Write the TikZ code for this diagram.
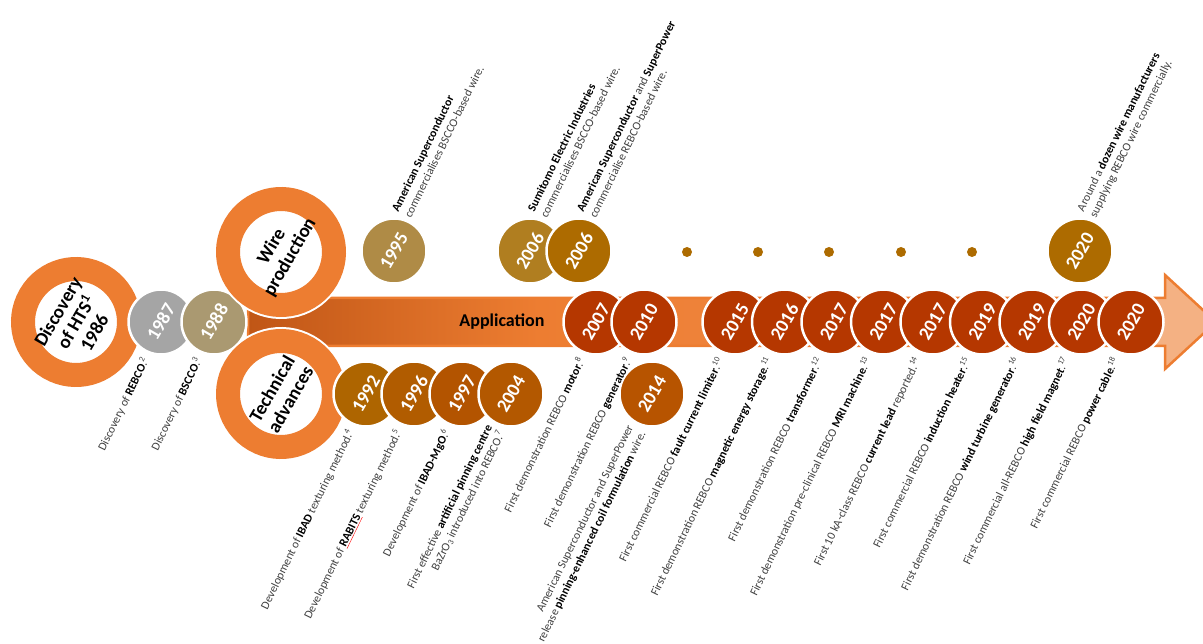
\documentclass[tikz,border=0pt]{standalone}
\usepackage{fontspec}
\setmainfont{Carlito}
\usetikzlibrary{calc}

\definecolor{ringorange}{RGB}{237,125,49}
\definecolor{banddark}{RGB}{192,86,22}
\definecolor{bandmid}{RGB}{240,140,75}
\definecolor{bandlight}{RGB}{244,177,131}
\definecolor{notegray}{RGB}{64,64,64}
\definecolor{hts87}{RGB}{165,165,165}
\definecolor{hts88}{RGB}{170,153,113}
\definecolor{wire95}{RGB}{175,139,70}
\definecolor{wire06a}{RGB}{176,126,32}
\definecolor{wire06b}{RGB}{173,107,0}
\definecolor{tech92}{RGB}{174,101,0}
\definecolor{tech96}{RGB}{177,92,0}
\definecolor{tech97}{RGB}{179,84,0}
\definecolor{tech04}{RGB}{179,88,0}
\definecolor{tech14}{RGB}{183,84,0}
\definecolor{appred}{RGB}{181,55,0}

\pgfdeclarehorizontalshading{bandshade}{100bp}{color(0bp)=(banddark); color(25bp)=(banddark); color(40bp)=(ringorange); color(66bp)=(bandmid); color(72bp)=(bandlight); color(100bp)=(bandlight)}

\newcommand{\kw}[1]{{\bfseries\color{black}#1}}

\tikzset{
  ring/.style={circle, fill=white, draw=white, line width=2pt, double=ringorange,
    double distance=24pt, minimum size=106pt, inner sep=0pt, align=center,
    rotate=60, font=\fontsize{19}{21}\selectfont\bfseries},
  year/.style={circle, fill=#1, draw=white, line width=2.5pt, minimum size=65pt,
    inner sep=0pt, text=white, rotate=60, font=\fontsize{19}{19}\selectfont\bfseries},
  smalldot/.style={circle, fill=wire06b, minimum size=10pt, inner sep=0pt},
  notebelow/.style={rotate=64, anchor=east, inner sep=0pt, align=right,
    text=notegray, font=\fontsize{11.8}{14}\selectfont},
  noteabove/.style={rotate=64, anchor=west, inner sep=0pt, align=left,
    text=notegray, font=\fontsize{11.8}{14}\selectfont},
}

\begin{document}
\begin{tikzpicture}[x=1pt, y=-1pt]
\useasboundingbox (0,0) rectangle (1203,644);
\clip (0,0) rectangle (1203,644);

% timeline arrow
\shadedraw[shading=bandshade, draw=ringorange, line width=2.5pt]
  (248,298) -- (1165,298) -- (1165,275) -- (1216,322) -- (1165,369)
  -- (1165,346) -- (248,346) -- cycle;
\node[font=\fontsize{18}{18}\selectfont\bfseries] (app) at (502,322) {Application};

% start
\node[ring] (discovery) at (76,322) {Discovery\\of HTS\textsuperscript{1}\\1986};
\node[year=hts87] (y1987) at (161,322) {1987};
\node[year=hts88] (y1988) at (214,322) {1988};
\node[ring] (wire) at (281,252) {Wire\\production};
\node[ring] (tech) at (281,394) {Technical\\advances};

% wire production
\node[year=wire95] (y1995) at (394,251) {1995};
\node[year=wire06a] (y2006a) at (530,251) {2006};
\node[year=wire06b] (y2006b) at (579,251) {2006};
\node[smalldot] (d1) at (687,252) {};
\node[smalldot] (d2) at (758,252) {};
\node[smalldot] (d3) at (829,252) {};
\node[smalldot] (d4) at (901,252) {};
\node[smalldot] (d5) at (972,252) {};
\node[year=wire06b] (y2020w) at (1080,251) {2020};

% technical advances
\node[year=tech92] (y1992) at (366,394) {1992};
\node[year=tech96] (y1996) at (414,394) {1996};
\node[year=tech97] (y1997) at (462,394) {1997};
\node[year=tech04] (y2004) at (511,394) {2004};
\node[year=tech14] (y2014) at (652,394) {2014};

% application
\node[year=appred] (y2007) at (596,322) {2007};
\node[year=appred] (y2010) at (644,322) {2010};
\node[year=appred] (y2015) at (735,322) {2015};
\node[year=appred] (y2016) at (784.5,322) {2016};
\node[year=appred] (y2017a) at (834,322) {2017};
\node[year=appred] (y2017b) at (883.5,322) {2017};
\node[year=appred] (y2017c) at (933,322) {2017};
\node[year=appred] (y2019a) at (982.5,322) {2019};
\node[year=appred] (y2019b) at (1032,322) {2019};
\node[year=appred] (y2020a) at (1081.5,322) {2020};
\node[year=appred] (y2020b) at (1131,322) {2020};

% notes above
\node[noteabove] (n1995) at ($(y1995)+(7,-37)$) {\kw{American Superconductor}\\commercialises BSCCO-based wire.};
\node[noteabove] (n2006a) at ($(y2006a)+(7,-37)$) {\kw{Sumitomo Electric Industries}\\commercialises BSCCO-based wire.};
\node[noteabove] (n2006b) at ($(y2006b)+(7,-37)$) {\kw{American Superconductor} and \kw{SuperPower}\\commercialise REBCO-based wire.};
\node[noteabove] (n2020w) at ($(y2020w)+(7,-37)$) {Around a \kw{dozen wire manufacturers}\\supplying REBCO wire commercially.};

% notes below
\node[notebelow] (n1987) at ($(y1987)+(-15,36)$) {Discovery of \kw{REBCO}.\textsuperscript{2}};
\node[notebelow] (n1988) at ($(y1988)+(-15,36)$) {Discovery of \kw{BSCCO}.\textsuperscript{3}};
\node[notebelow] (n1992) at ($(y1992)+(-15,36)$) {Development of \kw{IBAD} texturing method.\textsuperscript{4}};
\node[notebelow] (n1996) at ($(y1996)+(-15,36)$) {Development of \textcolor{red}{\underline{\kw{RABITS}}} texturing method.\textsuperscript{5}};
\node[notebelow] (n1997) at ($(y1997)+(-15,36)$) {Development of \kw{IBAD-MgO}.\textsuperscript{6}};
\node[notebelow] (n2004) at ($(y2004)+(-15,35)$) {First effective \kw{artificial pinning centre}\\BaZrO\textsubscript{3} introduced into REBCO.\textsuperscript{7}};
\node[notebelow] (n2007) at ($(y2007)+(-15,36)$) {First demonstration REBCO \kw{motor}.\textsuperscript{8}};
\node[notebelow] (n2010) at ($(y2010)+(-15,36)$) {First demonstration REBCO \kw{generator}.\textsuperscript{9}};
\node[notebelow] (n2014) at ($(y2014)+(-15,35)$) {American Superconductor and SuperPower\\release \kw{pinning-enhanced coil formulation} wire.};
\node[notebelow] (n2015) at ($(y2015)+(-15,36)$) {First commercial REBCO \kw{fault current limiter}.\textsuperscript{10}};
\node[notebelow] (n2016) at ($(y2016)+(-15,36)$) {First demonstration REBCO \kw{magnetic energy storage}.\textsuperscript{11}};
\node[notebelow] (n2017a) at ($(y2017a)+(-15,36)$) {First demonstration REBCO \kw{transformer}.\textsuperscript{12}};
\node[notebelow] (n2017b) at ($(y2017b)+(-15,36)$) {First demonstration pre-clinical REBCO \kw{MRI machine}.\textsuperscript{13}};
\node[notebelow] (n2017c) at ($(y2017c)+(-15,36)$) {First 10 kA-class REBCO \kw{current lead} reported.\textsuperscript{14}};
\node[notebelow] (n2019a) at ($(y2019a)+(-15,36)$) {First commercial REBCO \kw{induction heater}.\textsuperscript{15}};
\node[notebelow] (n2019b) at ($(y2019b)+(-15,36)$) {First demonstration REBCO \kw{wind turbine generator}.\textsuperscript{16}};
\node[notebelow] (n2020a) at ($(y2020a)+(-15,36)$) {First commercial all-REBCO \kw{high field magnet}.\textsuperscript{17}};
\node[notebelow] (n2020b) at ($(y2020b)+(-15,36)$) {First commercial REBCO \kw{power cable}.\textsuperscript{18}};

\end{tikzpicture}
\end{document}
